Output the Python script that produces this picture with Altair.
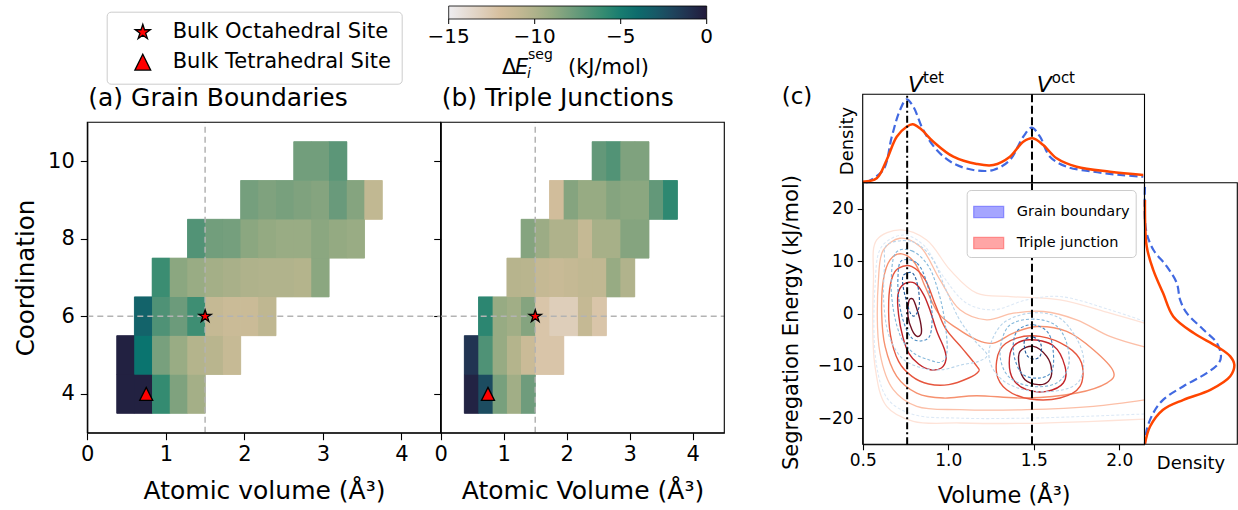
import altair as alt
import pandas as pd

FONT = "DejaVu Sans"
W, H = 1238, 510

# ====================== DATA ======================
# (a)/(b) heat maps: atomic-volume bin edges (A^3), coordination rows,
# index of the first filled bin in each row and the mean segregation energy per cell
VOLUME_BIN_EDGES = [0.375, 0.600, 0.826, 1.051, 1.276, 1.502, 1.727, 1.953,
                    2.178, 2.403, 2.629, 2.854, 3.079, 3.305, 3.530, 3.756]
COORDINATIONS = [4, 5, 6, 7, 8, 9, 10]

GB_FIRST_BIN = [0, 0, 1, 2, 4, 7, 10]
GB_ENERGY = [
    [-0.3, -0.3, -6.0, -8.3, -9.6],
    [-0.3, -4.5, -8.1, -9.2, -10.2, -10.4, -11.1],
    [-3.5, -6.8, -7.7, -6.3, -11.0, -11.3, -11.3, -10.7],
    [-6.2, -8.7, -9.2, -9.6, -9.8, -10.0, -10.1, -10.1, -10.2, -8.7],
    [-6.9, -7.9, -8.0, -8.7, -9.0, -9.2, -9.2, -8.7, -9.0, -9.2],
    [-8.0, -8.3, -8.1, -8.3, -8.5, -7.6, -8.5, -10.8],
    [-7.9, -7.9, -7.2],
]
TJ_FIRST_BIN = [0, 0, 1, 3, 4, 6, 9]
TJ_ENERGY = [
    [-0.4, -2.3, -8.1, -9.5, -7.8],
    [-1.2, -6.8, -9.1, -10.2, -11.3, -12.4, -12.4],
    [-5.7, -9.1, -9.5, -8.5, -12.4, -13.0, -13.0, -11.0, -12.4],
    [-10.3, -10.4, -11.0, -11.2, -11.0, -10.8, -10.8, -9.1, -10.1],
    [-8.5, -9.3, -10.0, -10.0, -11.0, -9.7, -9.7, -8.5, -8.5],
    [-11.7, -8.5, -9.1, -9.1, -8.5, -8.7, -8.7, -7.4, -5.8],
    [-7.4, -6.9, -8.3, -8.3],
]

SITE_NAMES = ["Bulk Octahedral Site", "Bulk Tetrahedral Site"]
SITE_VOLUME = [1.5, 0.75]
SITE_COORD = [6, 4]
REF_VOLUME = 1.5
REF_COORD = 6

CBAR_TICKS = [-15, -10, -5, 0]
CMAP_STOPS = [-15, -13.5, -12, -10.5, -9, -7.5, -6, -4.5, -3, -1.5, 0]

# (c) reference volumes
V_TET = 0.76
V_OCT = 1.49

# (c) marginal densities (relative heights)
TOP_V_GB = [0.52, 0.62, 0.67, 0.718, 0.757, 0.796, 0.854, 0.933, 1.03, 1.147,
            1.264, 1.361, 1.439, 1.488, 1.537, 1.595, 1.693, 1.849, 2.005, 2.141]
TOP_D_GB = [0.0, 0.144, 0.52, 0.822, 0.943, 0.86, 0.596, 0.37, 0.219, 0.144,
            0.144, 0.257, 0.52, 0.622, 0.52, 0.294, 0.181, 0.124, 0.087, 0.068]
TOP_V_TJ = [0.5, 0.582, 0.64, 0.699, 0.757, 0.792, 0.835, 0.913, 1.03, 1.167,
            1.264, 1.361, 1.439, 1.494, 1.556, 1.634, 1.751, 1.946, 2.141]
TOP_D_TJ = [0.01, 0.05, 0.257, 0.52, 0.633, 0.66, 0.615, 0.464, 0.294, 0.212,
            0.2, 0.294, 0.464, 0.502, 0.426, 0.276, 0.181, 0.124, 0.087]
RIGHT_E_GB = [24.2, 16, 12.2, 9.0, 5.8, 2.6, 0.07, -3.1, -5.65, -8.2, -9.5,
              -11.4, -13.9, -16.5, -19, -22.2, -24.9]
RIGHT_D_GB = [0.005, 0.016, 0.095, 0.24, 0.348, 0.384, 0.456, 0.636, 0.78, 0.824,
              0.80, 0.67, 0.42, 0.2, 0.095, 0.024, 0.005]
RIGHT_E_TJ = [21.7, 12.8, 8.3, 3.9, -0.57, -3.74, -6.3, -8.2, -9.8, -12.0,
              -14.6, -16.5, -18.4, -21.6, -24.9]
RIGHT_D_TJ = [0.005, 0.024, 0.095, 0.2, 0.31, 0.53, 0.78, 0.924, 0.968, 0.924,
              0.71, 0.42, 0.2, 0.06, 0.005]

# (c) KDE contour lines (volume, energy)
TJ5A_V = [0.769, 0.792, 0.812, 0.837, 0.843, 0.818, 0.788, 0.765]
TJ5A_E = [2.30, 2.81, 1.35, -1.52, -3.74, -4.38, -3.11, -0.56]
TJ5B_V = [1.42, 1.498, 1.576, 1.605, 1.586, 1.527, 1.449, 1.416]
TJ5B_E = [-7.25, -6.29, -8.2, -10.87, -12.97, -13.6, -12.65, -10.11]
TJ4A_V = [0.74, 0.804, 0.857, 0.896, 0.934, 0.979, 0.987, 0.96, 0.896, 0.827, 0.769, 0.734, 0.71, 0.706]
TJ4A_E = [5.61, 5.80, 3.57, 0.39, -3.43, -6.92, -8.83, -10.42, -10.74, -9.66, -7.56, -4.38, -0.25, 3.57]
TJ4B_V = [1.381, 1.478, 1.615, 1.683, 1.673, 1.576, 1.459, 1.381, 1.357]
TJ4B_E = [-6.29, -5.02, -6.16, -10.11, -13.29, -14.88, -14.56, -12.65, -9.47]
TJ3A_V = [0.71, 0.788, 0.866, 0.925, 0.983, 1.081, 1.168, 1.178, 1.12, 1.003, 0.886, 0.788, 0.71, 0.662, 0.652, 0.671]
TJ3A_E = [8.66, 8.98, 6.43, 1.66, -2.79, -6.61, -10.1, -11.06, -12.33, -13.6, -13.48, -12.01, -9.15, -4.06, 2.3, 6.75]
TJ3B_V = [1.303, 1.40, 1.537, 1.693, 1.78, 1.771, 1.654, 1.478, 1.342, 1.283]
TJ3B_E = [-6.93, -4.70, -4.38, -6.29, -9.47, -13.93, -16.15, -16.34, -14.56, -11.38]
TJ2_V = [0.621, 0.66, 0.728, 0.806, 0.865, 0.942, 1.05, 1.167, 1.264, 1.381, 1.518, 1.693,
         1.849, 1.966, 1.927, 1.751, 1.459, 1.167, 0.972, 0.816, 0.699, 0.631, 0.611]
TJ2_E = [6.43, 10.24, 11.39, 9.6, 5.15, 0.06, -2.8, -5.03, -5.66, -3.75, -2.48, -3.43,
         -6.93, -11.07, -13.3, -15.2, -16.16, -15.71, -16.16, -15.2, -12.02, -6.3, 0.06]
TJ1_V = [2.148, 1.946, 1.751, 1.557, 1.381, 1.225, 1.069, 0.952, 0.835, 0.718, 0.621, 0.592,
         0.601, 0.679, 0.816, 1.069, 1.459, 1.849, 2.148]
TJ1_E = [-6.4, -4.39, -1.21, 0.38, 0.06, -1.21, 0.7, 6.43, 12.79, 14.38, 12.15, 6.43,
         -7.57, -14.56, -17.75, -18.38, -18.38, -17.75, -16.5]
TJ0_V = [2.148, 1.946, 1.654, 1.362, 1.167, 1.011, 0.874, 0.718, 0.582, 0.563, 0.572,
         0.64, 0.796, 1.069, 1.459, 1.849, 2.148]
TJ0_E = [-1.85, 0.06, 2.61, 3.24, 3.88, 8.33, 14.06, 15.97, 14.06, 6.43, -10.11,
         -17.75, -20.6, -20.93, -21.0, -20.6, -20.2]

GB5A_V = [0.74, 0.792, 0.823, 0.831, 0.808, 0.779, 0.749, 0.734]
GB5A_E = [7.39, 7.71, 5.16, 1.66, -0.37, 0.07, 3.25, 5.8]
GB5B_V = [1.449, 1.498, 1.541, 1.541, 1.508, 1.465, 1.447]
GB5B_E = [-5.02, -4.51, -5.78, -7.88, -8.71, -8.2, -6.61]
GB4A_V = [0.726, 0.818, 0.876, 0.905, 0.895, 0.847, 0.788, 0.745, 0.714, 0.706]
GB4A_E = [10.06, 9.61, 5.8, 0.39, -4.06, -5.21, -4.7, -2.15, 1.98, 6.75]
GB4B_V = [1.41, 1.498, 1.586, 1.615, 1.605, 1.537, 1.439, 1.391, 1.381]
GB4B_E = [-3.11, -2.16, -3.75, -7.56, -11.06, -12.33, -11.7, -8.84, -5.66]
GB3A_V = [0.691, 0.788, 0.886, 0.948, 0.983, 0.993, 0.96, 0.886, 0.798, 0.726, 0.681, 0.667]
GB3A_E = [11.52, 11.97, 8.98, 3.57, -2.15, -7.24, -9.28, -8.83, -7.56, -4.7, 0.39, 6.11]
GB3B_V = [1.352, 1.488, 1.625, 1.693, 1.703, 1.634, 1.488, 1.352, 1.303]
GB3B_E = [-2.47, -1.08, -2.16, -5.66, -10.11, -13.29, -13.93, -12.02, -7.56]
GB2A_V = [0.642, 0.788, 0.905, 0.983, 1.061, 1.159, 1.227, 1.178, 1.081, 0.964, 0.847, 0.73, 0.652, 0.623, 0.628]
GB2A_E = [13.11, 13.75, 10.57, 4.84, -0.88, -5.33, -7.88, -9.15, -9.79, -10.74, -10.42, -8.52, -4.06, 2.3, 9.3]
GB2B_V = [1.322, 1.478, 1.634, 1.732, 1.79, 1.771, 1.673, 1.498, 1.342, 1.254, 1.244]
GB2B_E = [-1.84, 0.07, -0.57, -3.75, -8.2, -12.65, -14.56, -14.88, -13.29, -10.11, -6.29]
GB1_V = [2.148, 1.946, 1.654, 1.459, 1.264, 1.108, 0.972, 0.855, 0.738, 0.611, 0.572,
         0.582, 0.65, 0.796, 1.069, 1.459, 1.849, 2.148]
GB1_E = [-1.5, 0.7, 3.24, 2.61, 0.7, 1.97, 7.06, 13.11, 15.01, 12.79, 5.15,
         -10.11, -16.5, -19.3, -20.0, -20.0, -19.6, -19.2]

SERIES = ["Grain boundary", "Triple junction"]

# ====================== STYLE / LAYOUT ======================
CMAP_COLORS = ["#eeedf0", "#e2d5c8", "#d6bf9e", "#bcb68f", "#94aa82", "#66997a",
               "#348b71", "#0a746f", "#175a67", "#213b58", "#221a3b"]
TJ_LEVEL_COLORS = ["#fee3d8", "#fcbfa7", "#f6916f", "#e6553d", "#c4262a", "#6e1122"]
GB_LEVEL_COLORS = ["#dde9f6", "#b8d4ea", "#86b9db", "#4a8cc4", "#1f5a9c"]
STAR = ("M0,-1L0.2245,-0.309L0.951,-0.309L0.363,0.118L0.588,0.809L0,0.382"
        "L-0.588,0.809L-0.363,0.118L-0.951,-0.309L-0.2245,-0.309Z")
TRI = "M0,-1L1,1L-1,1Z"
# the same symbols moved right inside the legend's symbol column
STAR_LEG = ("M0.2,-1L0.4245,-0.309L1.151,-0.309L0.563,0.118L0.788,0.809L0.2,0.382"
            "L-0.388,0.809L-0.163,0.118L-0.751,-0.309L-0.0245,-0.309Z")
TRI_LEG = "M0.2,-1L1.2,1L-0.8,1Z"
PATCH = "M-1,-0.37H1V0.37H-1Z"
MINUS = "replace(datum.label, '-', '\u2212')"

A_XD, AB_YD = [0, 4.5], [3, 11]
A_X, B_X, AB_Y = [87.3, 440.7], [440.7, 724.3], [432.7, 122.3]
C_XD, C_YD = [0.5, 2.148], [-25, 25]
C_X, C_Y = [862.7, 1144.5], [444.3, 182.7]
CT_Y, CR_X = [182.7, 94.3], [1144.5, 1237.3]
CB_X = [448.7, 706.7]


def S(domain, rng, **kw):
    return alt.Scale(domain=domain, range=rng, nice=False, **kw)


ONE = pd.DataFrame({"k": [0]})


def text(t, x, y, size, align="left", angle=0, style="normal"):
    kw = dict(text=t, fontSize=size, font=FONT, align=align, baseline="alphabetic",
              color="black", fontStyle=style)
    if angle:
        kw["angle"] = angle
    return alt.Chart(ONE).mark_text(**kw).encode(x=alt.value(x), y=alt.value(y))


def heat_df(first_bins, energies):
    rows = []
    for c, b0, vals in zip(COORDINATIONS, first_bins, energies):
        for k, e in enumerate(vals):
            b = b0 + k
            rows.append(dict(v0=VOLUME_BIN_EDGES[b], v1=VOLUME_BIN_EDGES[b + 1],
                             c0=c - 0.5, c1=c + 0.5, E=e))
    return pd.DataFrame(rows)


def contour_df(items):
    rows = []
    for cid, (level, xs, ys) in enumerate(items):
        for i, (x, y) in enumerate(zip(xs, ys)):
            rows.append(dict(cid=cid, level=level, i=i, v=x, e=y))
    return pd.DataFrame(rows)


cmap = S(CMAP_STOPS, CMAP_COLORS, interpolate="rgb")
site_df = pd.DataFrame({"site": SITE_NAMES, "vol": SITE_VOLUME, "coord": SITE_COORD})

layers = []


def heat_panel(df, xrng, xaxis, yaxis, color_legend):
    xs = S(A_XD, xrng)
    ys = S(AB_YD, AB_Y)
    # under-layer with a thin outline of the cell colour hides anti-aliasing seams
    under = alt.Chart(df).mark_rect(strokeWidth=0.8).encode(
        x=alt.X("v0:Q", scale=xs, axis=None), x2="v1:Q",
        y=alt.Y("c0:Q", scale=ys, axis=None), y2="c1:Q",
        stroke=alt.Stroke("E:Q", scale=cmap, legend=None),
        fill=alt.Fill("E:Q", scale=cmap, legend=None),
    )
    heat = alt.Chart(df).mark_rect(strokeWidth=0).encode(
        x=alt.X("v0:Q", scale=xs, axis=xaxis), x2="v1:Q",
        y=alt.Y("c0:Q", scale=ys, axis=yaxis), y2="c1:Q",
        color=alt.Color("E:Q", scale=cmap, legend=color_legend),
    )
    vline = alt.Chart(ONE).mark_rule(color="#b3b3b3", strokeDash=[6, 4], strokeWidth=1.5).encode(
        x=alt.XDatum(REF_VOLUME, scale=xs, axis=None),
        y=alt.YDatum(AB_YD[0], scale=ys, axis=None), y2=alt.Y2Datum(AB_YD[1]))
    hline = alt.Chart(ONE).mark_rule(color="#b3b3b3", strokeDash=[6, 4], strokeWidth=1.5).encode(
        y=alt.YDatum(REF_COORD, scale=ys, axis=None),
        x=alt.XDatum(A_XD[0], scale=xs, axis=None), x2=alt.X2Datum(A_XD[1]))
    marks = alt.Chart(site_df).mark_point(filled=True, fill="red", stroke="black",
                                          strokeWidth=1.3, size=170, opacity=1).encode(
        x=alt.X("vol:Q", scale=xs, axis=None),
        y=alt.Y("coord:Q", scale=ys, axis=None),
        shape=alt.Shape("site:N", scale=alt.Scale(domain=SITE_NAMES, range=[STAR, TRI]),
                        legend=None),
    )
    frame = alt.Chart(ONE).mark_rect(fill="transparent", stroke="black", strokeWidth=1.1).encode(
        x=alt.XDatum(A_XD[0], scale=xs, axis=None), x2=alt.X2Datum(A_XD[1]),
        y=alt.YDatum(AB_YD[0], scale=ys, axis=None), y2=alt.Y2Datum(AB_YD[1]))
    return [under, heat, vline, hline, marks, frame]


cbar_legend = alt.Legend(orient="none", legendX=CB_X[0], legendY=6, direction="horizontal",
                         gradientLength=CB_X[1] - CB_X[0], gradientThickness=13, title=None,
                         values=CBAR_TICKS, labelOpacity=0, labelFontSize=1,
                         gradientStrokeColor="black", gradientStrokeWidth=0.8, padding=0)

ax_a_x = alt.Axis(orient="bottom", offset=AB_Y[0] - H, values=[0, 1, 2, 3, 4],
                  tickSize=7, labelFontSize=21, labelPadding=4, title="Atomic volume (\u00c5\u00b3)",
                  titleFontSize=25, titleX=264, titleY=66, titleBaseline="alphabetic")
ax_a_y = alt.Axis(orient="left", offset=-A_X[0], values=[4, 6, 8, 10], tickSize=7,
                  labelFontSize=21, labelPadding=6, title="Coordination", titleFontSize=24.5,
                  titleX=33 - A_X[0], titleY=277.5, titleBaseline="alphabetic")
ax_b_x = alt.Axis(orient="bottom", offset=AB_Y[0] - H, values=[0, 1, 2, 3, 4],
                  tickSize=7, labelFontSize=21, labelPadding=4, title="Atomic Volume (\u00c5\u00b3)",
                  titleFontSize=25, titleX=582.5, titleY=66, titleBaseline="alphabetic")
ax_b_y = alt.Axis(orient="left", offset=-B_X[0], values=[4, 6, 8, 10], tickSize=7,
                  labels=False, title=None)

layers += heat_panel(heat_df(GB_FIRST_BIN, GB_ENERGY), A_X, ax_a_x, ax_a_y, cbar_legend)
layers += heat_panel(heat_df(TJ_FIRST_BIN, TJ_ENERGY), B_X, ax_b_x, ax_b_y, None)

# legend of the bulk sites (hidden layer, legend only)
layers.append(alt.Chart(site_df).transform_filter("false").mark_point(filled=True, opacity=1).encode(
    x=alt.value(0), y=alt.value(0),
    shape=alt.Shape("site:N", scale=alt.Scale(domain=SITE_NAMES, range=[STAR_LEG, TRI_LEG]),
                    legend=alt.Legend(orient="none", legendX=106.7, legendY=11.7, title=None,
                                      labelFontSize=21, labelFont=FONT, labelColor="black",
                                      labelLimit=400, symbolSize=250, symbolStrokeWidth=1.3,
                                      symbolOpacity=1, padding=10, rowPadding=8,
                                      symbolOffset=14, labelOffset=21, strokeColor="#cccccc",
                                      fillColor="white", cornerRadius=4)),
    fill=alt.Fill("site:N", scale=alt.Scale(domain=SITE_NAMES, range=["red", "red"])),
    stroke=alt.Stroke("site:N", scale=alt.Scale(domain=SITE_NAMES, range=["black", "black"])),
))

# colourbar tick marks and tick labels
cb_scale = S([CBAR_TICKS[0], CBAR_TICKS[-1]], CB_X)
cb_df = pd.DataFrame({"t": CBAR_TICKS})
layers.append(alt.Chart(cb_df).mark_rule(color="black", strokeWidth=1).encode(
    x=alt.X("t:Q", scale=cb_scale, axis=None),
    y=alt.value(19), y2=alt.value(24)))
layers.append(alt.Chart(cb_df).transform_calculate(
    lab="replace(format(datum.t, 'd'), '-', '\u2212')").mark_text(
    fontSize=20, font=FONT, color="black", align="center", baseline="alphabetic").encode(
    x=alt.X("t:Q", scale=cb_scale, axis=None), y=alt.value(42.5), text="lab:N"))

# ---------------- panel (c) ----------------
cxs = S(C_XD, C_X, clamp=True)
cys = S(C_YD, C_Y, clamp=True)


def contour_layer(items, interp, colors, width, dash=None):
    mk = dict(interpolate=interp, strokeWidth=width)
    if dash:
        mk["strokeDash"] = dash
    df = contour_df(items)
    return alt.Chart(df).mark_line(**mk).encode(
        x=alt.X("v:Q", scale=cxs, axis=None),
        y=alt.Y("e:Q", scale=cys, axis=None),
        detail="cid:N", order="i:Q",
        stroke=alt.Stroke("level:O", scale=alt.Scale(domain=list(range(len(colors))), range=colors),
                          legend=None),
    )


TJ_OPEN = [(0, TJ0_V, TJ0_E), (1, TJ1_V, TJ1_E)]
TJ_CLOSED = [(2, TJ2_V, TJ2_E), (3, TJ3A_V, TJ3A_E), (3, TJ3B_V, TJ3B_E),
             (4, TJ4A_V, TJ4A_E), (4, TJ4B_V, TJ4B_E), (5, TJ5A_V, TJ5A_E), (5, TJ5B_V, TJ5B_E)]
GB_OPEN = [(0, GB1_V, GB1_E)]
GB_CLOSED = [(1, GB2A_V, GB2A_E), (1, GB2B_V, GB2B_E), (2, GB3A_V, GB3A_E), (2, GB3B_V, GB3B_E),
             (3, GB4A_V, GB4A_E), (3, GB4B_V, GB4B_E), (4, GB5A_V, GB5A_E), (4, GB5B_V, GB5B_E)]

layers.append(contour_layer(TJ_OPEN, "catmull-rom", TJ_LEVEL_COLORS, 1.3))
layers.append(contour_layer(TJ_CLOSED, "cardinal-closed", TJ_LEVEL_COLORS, 1.4))
layers.append(contour_layer(GB_OPEN, "catmull-rom", GB_LEVEL_COLORS, 1.1, [3, 2]))
layers.append(contour_layer(GB_CLOSED, "cardinal-closed", GB_LEVEL_COLORS, 1.1, [3, 2]))

# axes of the main (c) plot carried by its frame
ax_c_x = alt.Axis(orient="bottom", offset=C_Y[0] - H, values=[0.5, 1.0, 1.5, 2.0], format=".1f",
                  tickSize=5.5, labelFontSize=17, labelPadding=3, title="Volume (\u00c5\u00b3)",
                  titleFontSize=22.5, titleX=1003.6, titleY=58, titleBaseline="alphabetic")
ax_c_y = alt.Axis(orient="left", offset=-C_X[0], values=[-20, -10, 0, 10, 20], labelExpr=MINUS,
                  tickSize=5.5, labelFontSize=17, labelPadding=4,
                  title="Segregation Energy (kJ/mol)", titleFontSize=21,
                  titleX=797 - C_X[0], titleY=322, titleBaseline="alphabetic")
layers.append(alt.Chart(ONE).mark_rect(fill="transparent", stroke="black", strokeWidth=1.1).encode(
    x=alt.XDatum(C_XD[0], scale=cxs, axis=ax_c_x), x2=alt.X2Datum(C_XD[1]),
    y=alt.YDatum(C_YD[0], scale=cys, axis=ax_c_y), y2=alt.Y2Datum(C_YD[1])))

# top marginal
tys = S([0, 1], CT_Y)
for vs, ds, style in [(TOP_V_GB, TOP_D_GB, dict(color="#4169e1", strokeWidth=2.2, strokeDash=[8, 4])),
                      (TOP_V_TJ, TOP_D_TJ, dict(color="#ff4500", strokeWidth=2.5))]:
    layers.append(alt.Chart(pd.DataFrame({"v": vs, "d": ds, "i": range(len(vs))}))
                  .mark_line(interpolate="catmull-rom", **style).encode(
        x=alt.X("v:Q", scale=cxs, axis=None), y=alt.Y("d:Q", scale=tys, axis=None),
        order="i:Q"))
layers.append(alt.Chart(ONE).mark_rect(fill="transparent", stroke="black", strokeWidth=1.1).encode(
    x=alt.XDatum(C_XD[0], scale=cxs, axis=None), x2=alt.X2Datum(C_XD[1]),
    y=alt.YDatum(0, scale=tys, axis=None), y2=alt.Y2Datum(1)))

# right marginal
rxs = S([0, 1], CR_X)
for es, ds, style in [(RIGHT_E_GB, RIGHT_D_GB, dict(color="#4169e1", strokeWidth=2.2, strokeDash=[8, 4])),
                      (RIGHT_E_TJ, RIGHT_D_TJ, dict(color="#ff4500", strokeWidth=2.5))]:
    layers.append(alt.Chart(pd.DataFrame({"e": es, "d": ds, "i": range(len(es))}))
                  .mark_line(interpolate="catmull-rom", **style).encode(
        x=alt.X("d:Q", scale=rxs, axis=None), y=alt.Y("e:Q", scale=cys, axis=None),
        order="i:Q"))
layers.append(alt.Chart(ONE).mark_rect(fill="transparent", stroke="black", strokeWidth=1.1).encode(
    x=alt.XDatum(0, scale=rxs, axis=None), x2=alt.X2Datum(1),
    y=alt.YDatum(C_YD[0], scale=cys, axis=None), y2=alt.Y2Datum(C_YD[1])))

# vertical reference lines through the top marginal and the main plot
for v, dash in [(V_TET, [7, 3, 2, 3]), (V_OCT, [8, 3.5])]:
    layers.append(alt.Chart(ONE).mark_rule(color="black", strokeWidth=2, strokeDash=dash).encode(
        x=alt.XDatum(v, scale=cxs, axis=None),
        y=alt.YDatum(0, scale=tys, axis=None), y2=alt.Y2Datum(1)))
    layers.append(alt.Chart(ONE).mark_rule(color="black", strokeWidth=2, strokeDash=dash).encode(
        x=alt.XDatum(v, scale=cxs, axis=None),
        y=alt.YDatum(C_YD[0], scale=cys, axis=None), y2=alt.Y2Datum(C_YD[1])))

# legend of (c)
c_legend = alt.Legend(orient="none", legendX=966.7, legendY=190, title=None,
                      labelFontSize=14.5, labelFont=FONT, labelColor="black",
                      symbolType=PATCH, symbolSize=900, symbolStrokeWidth=1.2,
                      padding=6, rowPadding=7, labelOffset=12,
                      strokeColor="#cccccc", fillColor="white", cornerRadius=4)
layers.append(alt.Chart(pd.DataFrame({"series": SERIES})).transform_filter("false")
              .mark_square(size=10).encode(
    x=alt.value(0), y=alt.value(0),
    fill=alt.Fill("series:N", scale=alt.Scale(domain=SERIES, range=["rgba(0,0,255,0.5)", "rgba(255,0,0,0.5)"]),
                  legend=c_legend),
    stroke=alt.Stroke("series:N", scale=alt.Scale(domain=SERIES, range=["rgba(0,0,255,0.55)", "rgba(255,0,0,0.55)"]),
                      legend=c_legend),
))

# ---------------- text annotations ----------------
layers += [
    text("(a) Grain Boundaries", 88.3, 106, 25),
    text("(b) Triple Junctions", 441.7, 106, 25),
    text("(c)", 781.7, 104, 23),
    text("V", 908, 91.7, 22, style="italic"),
    text("tet", 923, 83, 15),
    text("V", 1036.7, 91.7, 22, style="italic"),
    text("oct", 1051.7, 83, 15),
    text("Density", 853, 141, 18, align="center", angle=270),
    text("Density", 1191, 469, 18, align="center"),
    text("\u0394", 502, 74, 21),
    text("E", 515, 74, 21, style="italic"),
    text("i", 527, 78, 14, style="italic"),
    text("seg", 528, 59, 14),
    text("(kJ/mol)", 568, 74, 21),
]

chart = (
    alt.layer(*layers)
    .resolve_scale(x="independent", y="independent", color="independent",
                   shape="independent", stroke="independent", fill="independent")
    .properties(width=W, height=H, autosize=alt.AutoSizeParams(type="none"), padding=0)
    .configure(font=FONT)
    .configure_view(stroke="transparent")
    .configure_axis(grid=False, domainColor="black", tickColor="black", labelColor="black",
                    titleColor="black", titleFontWeight="normal", labelFlush=False,
                    domainWidth=1.1, tickWidth=1.1, labelFont=FONT, titleFont=FONT)
)

chart.save("out.html", embed_options={"renderer": "svg", "actions": False})
